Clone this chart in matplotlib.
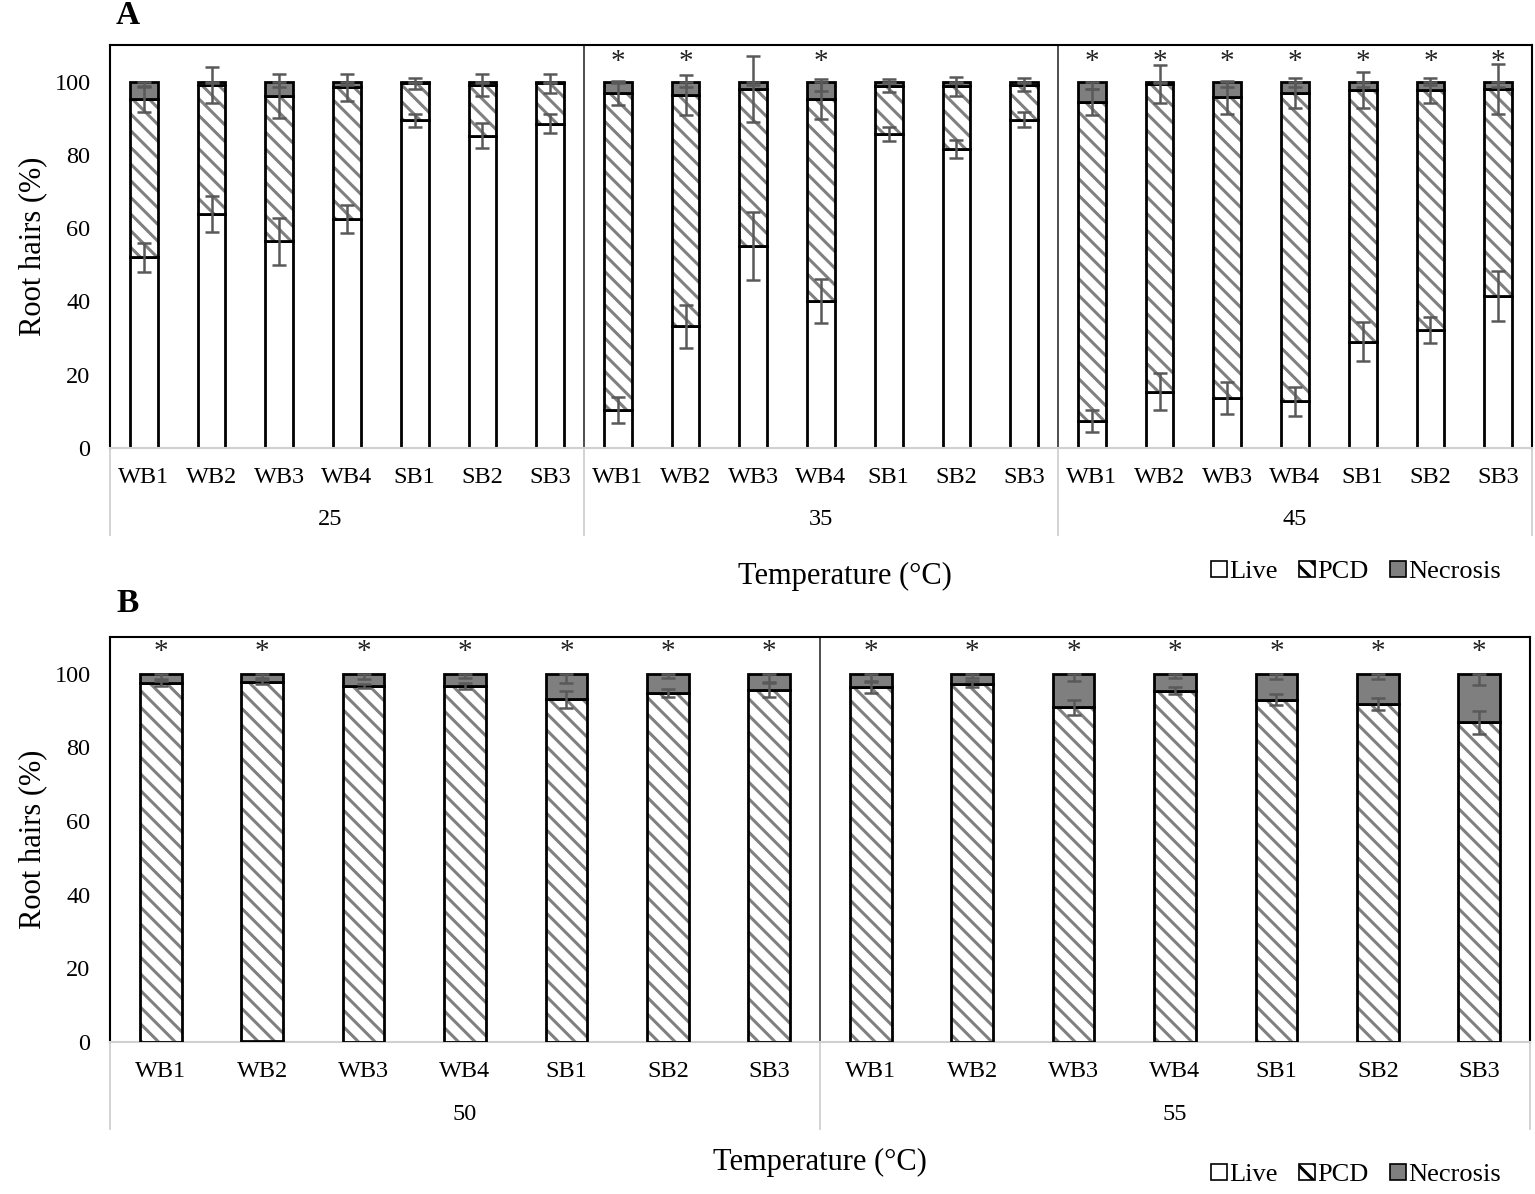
import numpy as np
import matplotlib.pyplot as plt
from matplotlib.patches import Patch

plt.rcParams['font.family'] = ['Liberation Serif', 'DejaVu Serif']
plt.rcParams['hatch.linewidth'] = 2.2
plt.rcParams['hatch.color'] = '#808080'

strains = ['WB1', 'WB2', 'WB3', 'WB4', 'SB1', 'SB2', 'SB3']

# panel A : 25, 35, 45 C
temps_a = ['25', '35', '45']
live_a = [52.0, 63.9, 56.4, 62.5, 89.4, 85.2, 88.5,
          10.4, 33.2, 55.2, 40.0, 85.7, 81.7, 89.6,
          7.5, 15.4, 13.6, 12.7, 29.0, 32.2, 41.5]
pcd_a = [43.3, 35.2, 39.7, 36.0, 10.1, 14.0, 11.0,
         86.5, 63.2, 42.8, 55.3, 13.2, 17.0, 9.6,
         86.9, 84.0, 82.2, 84.2, 68.6, 65.4, 56.5]
nec_a = [4.7, 0.9, 3.9, 1.5, 0.5, 0.8, 0.5,
         3.1, 3.6, 2.0, 4.7, 1.1, 1.3, 0.8,
         5.6, 0.6, 4.2, 3.1, 2.4, 2.4, 2.0]
live_err_a = [3.9, 5.0, 6.5, 3.9, 1.7, 3.4, 2.6,
              3.5, 5.8, 9.3, 6.0, 1.8, 2.5, 2.0,
              3.0, 5.1, 4.3, 4.0, 5.3, 3.5, 6.8]
pcd_err_a = [3.5, 4.9, 5.9, 3.7, 1.6, 3.0, 2.7,
             3.4, 5.5, 9.1, 5.4, 1.7, 2.5, 1.7,
             3.5, 5.1, 4.5, 4.1, 4.9, 3.5, 6.7]
nec_err_a = [1.5, 0.5, 1.5, 0.8, 0.3, 0.5, 0.3,
             0.5, 1.5, 1.0, 2.5, 0.3, 0.5, 0.3,
             2.0, 0.5, 1.5, 1.5, 1.5, 1.0, 1.5]
stars_a = [0, 0, 0, 0, 0, 0, 0,
           1, 1, 0, 1, 0, 0, 0,
           1, 1, 1, 1, 1, 1, 1]

# panel B : 50, 55 C
temps_b = ['50', '55']
live_b = [0, 0.4, 0, 0, 0, 0, 0,
          0, 0, 0, 0, 0, 0, 0]
pcd_b = [97.4, 97.3, 96.7, 96.7, 93.1, 94.9, 95.7,
         96.3, 97.2, 90.9, 95.4, 93.0, 91.8, 86.8]
nec_b = [2.6, 2.3, 3.3, 3.3, 6.9, 5.1, 4.3,
         3.7, 2.8, 9.1, 4.6, 7.0, 8.2, 13.2]
live_err_b = [0] * 14
pcd_err_b = [0.7, 0.6, 0.6, 0.9, 2.3, 1.1, 2.0,
             1.6, 0.8, 2.0, 1.0, 1.4, 1.5, 3.1]
nec_err_b = [1.5, 1.0, 1.5, 1.0, 2.5, 1.0, 2.5,
             2.0, 1.0, 2.0, 1.0, 1.5, 1.5, 3.0]
stars_b = [1] * 14

ecol = '#595959'


def draw_panel(ax, temps, live, pcd, nec, live_err, pcd_err, nec_err, stars, star_y, glabel_dx):
    n = len(live)
    x = np.arange(n)
    live = np.array(live)
    pcd = np.array(pcd)
    nec = np.array(nec)
    top = live + pcd
    w = 0.41
    ax.bar(x, live, w, color='white', edgecolor='black', linewidth=2, zorder=2)
    ax.bar(x, pcd, w, bottom=live, color='white', edgecolor='#808080',
           hatch='\\\\', linewidth=0, zorder=2)
    ax.bar(x, pcd, w, bottom=live, color='none', edgecolor='black', linewidth=2, zorder=3)
    ax.bar(x, nec, w, bottom=top, color='#7f7f7f', edgecolor='black', linewidth=2, zorder=3)

    le = np.array(live_err)
    m = le > 0
    if m.any():
        ax.errorbar(x[m], live[m], yerr=le[m], fmt='none', ecolor=ecol,
                    elinewidth=1.8, capsize=5, capthick=1.8, zorder=4)
    ax.errorbar(x, top, yerr=pcd_err, fmt='none', ecolor=ecol,
                elinewidth=1.8, capsize=5, capthick=1.8, zorder=4)
    ne = np.array(nec_err)
    ax.errorbar(x, np.full(n, 100.0), yerr=[ne, np.zeros(n)], fmt='none', ecolor=ecol,
                elinewidth=1.8, capsize=5, capthick=1.8, zorder=4)

    for i in range(n):
        if stars[i]:
            ax.text(x[i], star_y, '*', ha='center', va='center', fontsize=21,
                    color='#222222', zorder=5)

    ax.set_xlim(-0.5, n - 0.5)
    ax.set_ylim(0, 110)
    ax.set_yticks([0, 20, 40, 60, 80, 100])
    ax.set_xticks(x)
    ax.set_xticklabels(strains * len(temps))
    ax.tick_params(axis='x', length=0, pad=14, labelsize=17.5)
    ax.tick_params(axis='y', length=0, pad=14, labelsize=17.5)
    for s in ['top', 'left', 'right']:
        ax.spines[s].set_color('black')
        ax.spines[s].set_linewidth(1.5)
    ax.spines['bottom'].set_color('#d0d0d0')
    ax.spines['bottom'].set_linewidth(1.5)

    k = len(strains)
    trans = ax.get_xaxis_transform()
    for g in range(len(temps) + 1):
        xb = g * k - 0.5
        ax.plot([xb, xb], [0, -0.215], color='#d0d0d0', lw=1.3, transform=trans, clip_on=False)
        if 0 < g < len(temps):
            ax.plot([xb, xb], [0, 1], color='#404040', lw=1.3, transform=trans)
    for g, t in enumerate(temps):
        dx = glabel_dx if g == 0 else 0
        ax.text(g * k + (k - 1) / 2 + dx, -0.178, t, ha='center', va='center',
                fontsize=17.5, transform=trans)
    ax.set_ylabel('Root hairs (%)', fontsize=22, labelpad=5)


fig = plt.figure(figsize=(15.35, 11.94), dpi=100)
ax_a = fig.add_axes([110 / 1535, 1 - 448 / 1194, 1422 / 1535, 403 / 1194])
ax_b = fig.add_axes([110 / 1535, 1 - 1042 / 1194, 1420 / 1535, 405 / 1194])

draw_panel(ax_a, temps_a, live_a, pcd_a, nec_a, live_err_a, pcd_err_a, nec_err_a, stars_a, 105.3, -0.25)
draw_panel(ax_b, temps_b, live_b, pcd_b, nec_b, live_err_b, pcd_err_b, nec_err_b, stars_b, 105.8, 0)

fig.text(128 / 1535, 1 - 16 / 1194, 'A', fontsize=24, fontweight='bold', ha='center', va='center')
fig.text(128 / 1535, 1 - 604 / 1194, 'B', fontsize=24, fontweight='bold', ha='center', va='center')
fig.text(845 / 1535, 1 - 576 / 1194, 'Temperature (°C)', fontsize=22, ha='center', va='center')
fig.text(820 / 1535, 1 - 1162 / 1194, 'Temperature (°C)', fontsize=22, ha='center', va='center')

handles = [Patch(facecolor='white', edgecolor='black', linewidth=1.2, label='Live'),
           Patch(facecolor='white', edgecolor='black', hatch='\\\\', linewidth=1.2, label='PCD'),
           Patch(facecolor='#7f7f7f', edgecolor='black', linewidth=1.2, label='Necrosis')]
for yy in [572, 1175]:
    fig.legend(handles=handles, loc='center', bbox_to_anchor=(1356 / 1535, 1 - yy / 1194),
               ncol=3, frameon=False, fontsize=19, handlelength=0.6, handleheight=0.6,
               handletextpad=0.1, columnspacing=0.8, borderaxespad=0)

fig.savefig('out.png', dpi=100)
